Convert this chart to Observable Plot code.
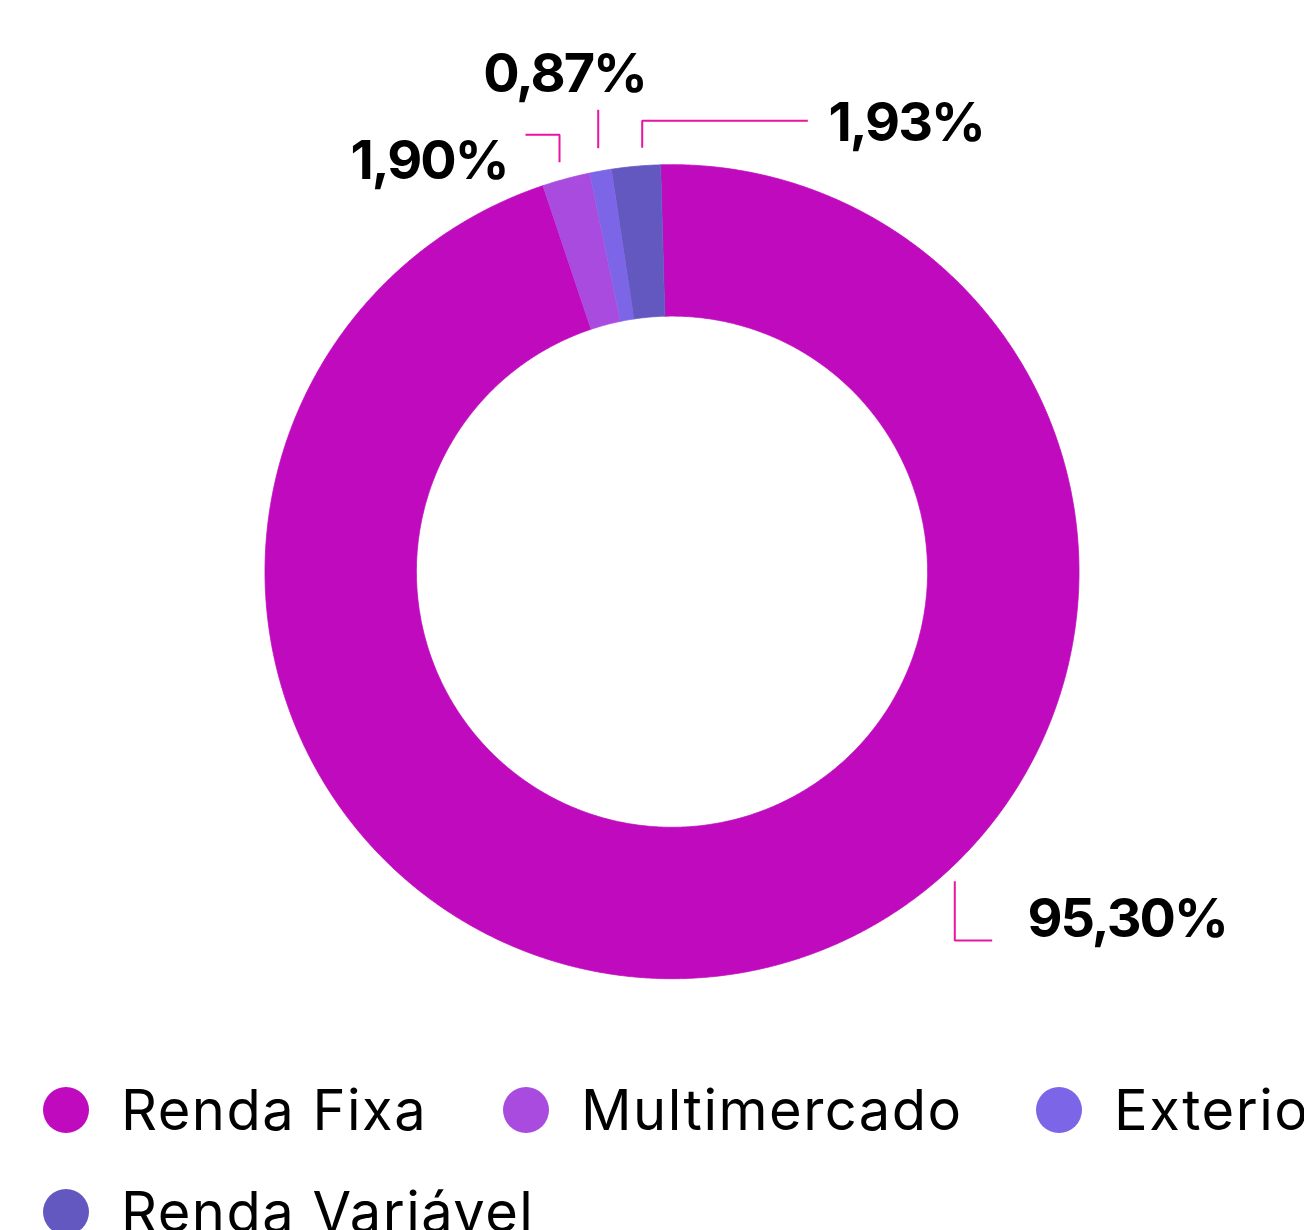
<!DOCTYPE html>
<html>
<head>
<meta charset="utf-8">
<script src="https://cdn.jsdelivr.net/npm/d3@7"></script>
<script src="https://cdn.jsdelivr.net/npm/@observablehq/plot@0.6"></script>
<style>
  html, body { margin: 0; padding: 0; background: #fff; overflow: hidden; width: 1304px; }
  #chart svg { display: block; }
  #chart text { letter-spacing: -2px; }
  .legend { display: grid; grid-template-columns: 460px 533px 420px; width: 1420px;
            padding-top: 19px; margin-left: 43px; font-family: Inter, "Open Sans", sans-serif; }
  .item { display: flex; align-items: center; height: 102px; }
  .sw { width: 46px; height: 46px; border-radius: 50%; flex: none; margin-right: 32px; }
  .lbl { font-size: 56px; font-weight: 400; color: #000; white-space: nowrap; letter-spacing: 1.5px; }
</style>
</head>
<body>
<div id="chart"></div>
<div class="legend" id="legend"></div>
<script>
// ---- data ----
const categories = ["Renda Fixa", "Multimercado", "Exterior", "Renda Variável"];
const values = [95.30, 1.90, 0.87, 1.93];
const colors = ["#BF0ABD", "#A94BDF", "#7C65E7", "#6258C0"];

// ---- layout (unit = outer radius, origin = donut centre, y up) ----
const W = 1304, H = 1040, R = 407, cx = 671.5, cy = 571.2;
const inner = 0.628;
const startAngle = -1.6 * Math.PI / 180;

const labelLayout = [
  {cat: "Renda Fixa", anchor: "start", tx: 0.8735, ty: -0.8558,
   leader: [[0.6948, -0.7604], [0.6948, -0.9061], [0.7867, -0.9061]]},
  {cat: "Multimercado", anchor: "end", tx: -0.4042, ty: 1.0079,
   leader: [[-0.2764, 1.0061], [-0.2764, 1.0735], [-0.3600, 1.0735]]},
  {cat: "Exterior", anchor: "middle", tx: -0.2641, ty: 1.2216,
   leader: [[-0.1813, 1.0405], [-0.1813, 1.1349]]},
  {cat: "Renda Variável", anchor: "start", tx: 0.3845, ty: 1.1012,
   leader: [[-0.0732, 1.0415], [-0.0732, 1.1079], [0.3337, 1.1079]]}
];

// ---- slice polygons derived from the values ----
const total = d3.sum(values);
const slicePts = [];
let acc = startAngle;
categories.forEach((cat, i) => {
  const a0 = acc, a1 = acc + values[i] / total * 2 * Math.PI;
  acc = a1;
  const n = Math.max(2, Math.ceil((a1 - a0) / (0.25 * Math.PI / 180)));
  for (let k = 0; k <= n; k++) {
    const a = a0 + (a1 - a0) * k / n;
    slicePts.push({cat, x: Math.sin(a), y: Math.cos(a)});
  }
  for (let k = n; k >= 0; k--) {
    const a = a0 + (a1 - a0) * k / n;
    slicePts.push({cat, x: inner * Math.sin(a), y: inner * Math.cos(a)});
  }
});

const fmt = v => v.toFixed(2).replace(".", ",") + "%";
const labels = labelLayout.map(l => ({...l, text: fmt(values[categories.indexOf(l.cat)])}));
const leaderPts = labels.flatMap(l => l.leader.map(([x, y]) => ({cat: l.cat, x, y})));

const textOpts = {x: "tx", y: "ty", text: "text", fontSize: 54, fontWeight: 700,
                  fontFamily: "Inter, 'Open Sans', sans-serif", fill: "#000", lineAnchor: "middle"};

const chart = Plot.plot({
  width: W, height: H,
  margin: 0,
  style: {background: "#fff", fontFamily: "Inter, sans-serif"},
  x: {domain: [-cx / R, (W - cx) / R], range: [0, W], axis: null},
  y: {domain: [cy / R, -(H - cy) / R], range: [0, H], axis: null},
  color: {domain: categories, range: colors},
  marks: [
    Plot.line(slicePts, {x: "x", y: "y", z: "cat", fill: "cat", stroke: "cat", strokeWidth: 0.8, curve: "linear"}),
    Plot.line(leaderPts, {x: "x", y: "y", z: "cat", stroke: "#E8159F", strokeWidth: 2,
                          strokeLinecap: "butt", strokeLinejoin: "miter"}),
    Plot.text(labels.filter(d => d.anchor === "start"), {...textOpts, textAnchor: "start"}),
    Plot.text(labels.filter(d => d.anchor === "end"), {...textOpts, textAnchor: "end"}),
    Plot.text(labels.filter(d => d.anchor === "middle"), {...textOpts, textAnchor: "middle"})
  ]
});
document.getElementById("chart").appendChild(chart);

// ---- legend ----
const legend = document.getElementById("legend");
categories.forEach((c, i) => {
  const item = document.createElement("div");
  item.className = "item";
  const sw = document.createElement("span");
  sw.className = "sw";
  sw.style.background = colors[i];
  const lb = document.createElement("span");
  lb.className = "lbl";
  lb.textContent = c;
  item.append(sw, lb);
  legend.appendChild(item);
});
</script>
</body>
</html>
